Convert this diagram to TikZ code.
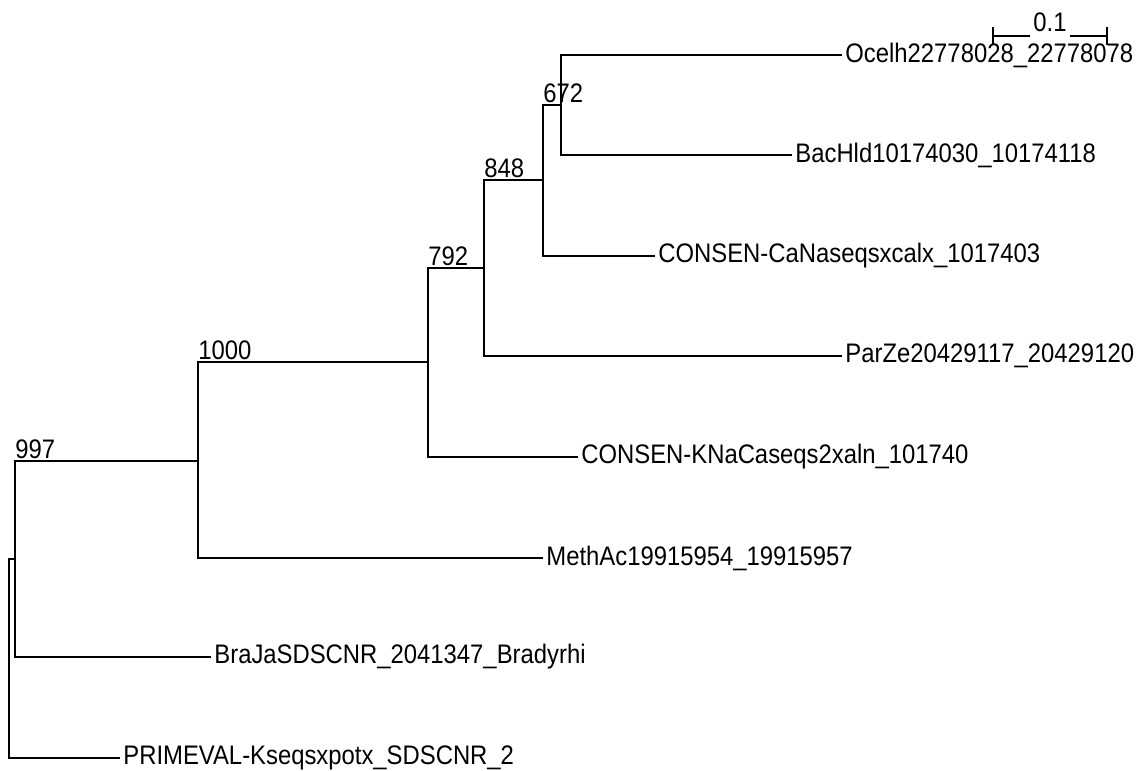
\documentclass[tikz,border=0pt]{standalone}
\usepackage{fontspec}
\setmainfont[FakeStretch=0.89]{Liberation Sans}

\begin{document}
\begin{tikzpicture}[x=0.5pt, y=-0.5pt,
    branch/.style={line width=0.65pt, black},
    leaf/.style={anchor=west, inner sep=1.5pt, font=\fontsize{13.4}{15}\selectfont},
    boot/.style={anchor=base west, inner sep=0pt, yshift=1.5pt, font=\fontsize{13.4}{15}\selectfont}]
    \useasboundingbox (0,0) rectangle (1137,771);

    % Internal nodes
    \coordinate (root) at (9,559);
    \coordinate (nA) at (15,559);
    \coordinate (n997) at (198,461);
    \coordinate (n1000) at (428,362);
    \coordinate (n792) at (484,268);
    \coordinate (n848) at (543,180);
    \coordinate (n672) at (561,105);

    % Leaf labels
    \node[leaf] (ocel) at (842,55) {Ocelh22778028\_22778078};
    \node[leaf] (bachld) at (792,155) {BacHld10174030\_10174118};
    \node[leaf] (cana) at (655,256) {CONSEN-CaNaseqsxcalx\_1017403};
    \node[leaf] (parze) at (842,356) {ParZe20429117\_20429120};
    \node[leaf] (kna) at (578,457) {CONSEN-KNaCaseqs2xaln\_101740};
    \node[leaf] (methac) at (543,558) {MethAc19915954\_19915957};
    \node[leaf] (braja) at (211,657) {BraJaSDSCNR\_2041347\_Bradyrhi};
    \node[leaf] (prime) at (120,758) {PRIMEVAL-Kseqsxpotx\_SDSCNR\_2};

    % Branches
    \draw[branch] (nA) -| (root) |- (prime.west);
    \draw[branch] (n997) -| (nA) |- (braja.west);
    \draw[branch] (n1000) -| (n997) |- (methac.west);
    \draw[branch] (n792) -| (n1000) |- (kna.west);
    \draw[branch] (n848) -| (n792) |- (parze.west);
    \draw[branch] (n672) -| (n848) |- (cana.west);
    \draw[branch] (ocel.west) -| (n672) |- (bachld.west);

    % Bootstrap values
    \node[boot] (b997) at (nA |- n997) {997};
    \node[boot] (b1000) at (n997 |- n1000) {1000};
    \node[boot] (b792) at (n1000 |- n792) {792};
    \node[boot] (b848) at (n792 |- n848) {848};
    \node[boot] (b672) at (n848 |- n672) {672};

    % Scale bar
    \coordinate (sbL) at (993,36);
    \coordinate (sbR) at (1107,36);
    \node[font=\fontsize{13.4}{15}\selectfont, anchor=base, inner sep=1.5pt] (sblab) at (1050,32) {0.1};
    \draw[branch] (sbL) -- (sbL -| sblab.west);
    \draw[branch] (sblab.east |- sbR) -- (sbR);
    \draw[branch] ([yshift=4.5pt]sbL) -- ([yshift=-4.5pt]sbL);
    \draw[branch] ([yshift=4.5pt]sbR) -- ([yshift=-4.5pt]sbR);
\end{tikzpicture}
\end{document}
